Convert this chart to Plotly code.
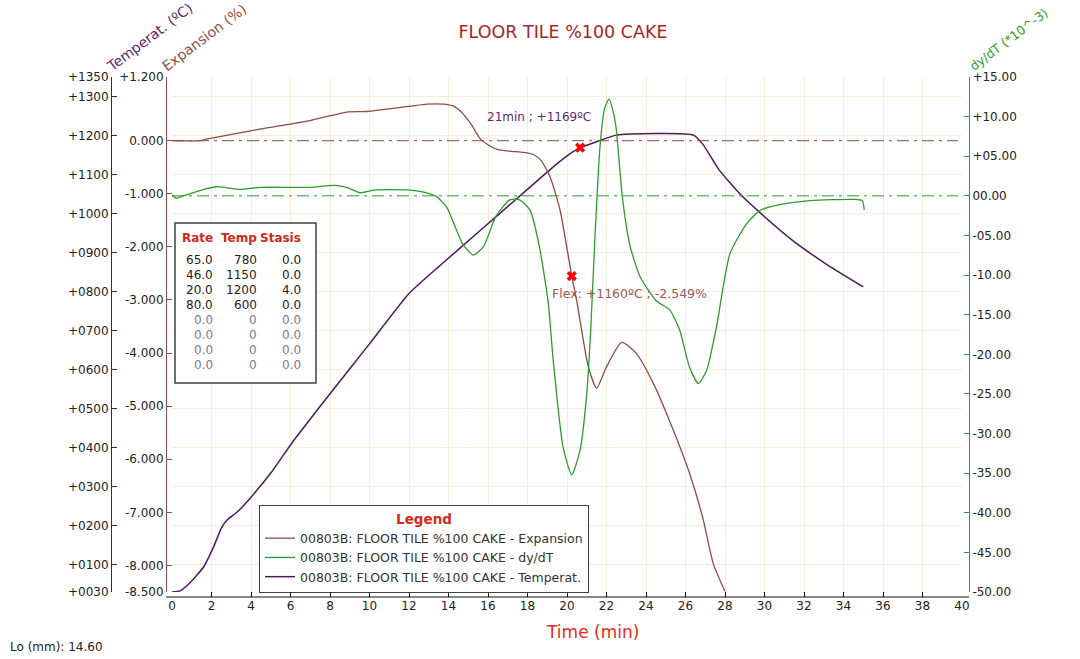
import plotly.graph_objects as go

# ---------------- data ----------------
t_temp = [0, 0.4, 0.9, 1.6, 2.1, 2.5, 2.8, 3.3, 4.0, 5.0, 6.1, 8.0, 10.0, 12.0, 13.6, 15.5,
          17.5, 19.5, 20.2, 20.7, 21.5, 22.5, 26.4, 26.9, 27.7, 28.8, 29.8, 31.4, 33.2, 35.0]
temperature = [30, 33, 53, 94, 145, 194, 215, 235, 273, 335, 414, 538, 666, 795, 868, 952,
               1040, 1128, 1155, 1169, 1184, 1201, 1201, 1176, 1112, 1048, 1001, 932, 868, 812]

t_exp = [0, 1.4, 1.75, 4.46, 6.99, 8.84, 9.86, 12.05, 12.9, 13.74, 14.2, 14.6, 14.95, 15.2,
         15.6, 16.1, 16.5, 17.2, 17.8, 18.3, 18.7, 19.14, 19.65, 20.24, 20.5, 21.08, 21.5,
         22.0, 22.77, 23.5, 24.37, 25.38, 26.2, 26.9, 27.4, 28.0]
expansion = [0, 0, 0.03, 0.22, 0.38, 0.54, 0.55, 0.65, 0.69, 0.69, 0.66, 0.56, 0.41, 0.28,
             0.04, -0.10, -0.17, -0.20, -0.22, -0.26, -0.38, -0.68, -1.31, -2.55, -3.03, -4.26,
             -4.66, -4.26, -3.80, -4.00, -4.57, -5.45, -6.26, -7.14, -7.96, -8.49]

t_dydt = [0, 0.24, 0.57, 1.6, 2.26, 3.44, 4.46, 6.99, 8.17, 8.84, 9.52, 10.2, 12.05, 12.9,
          13.4, 13.9, 14.4, 14.75, 15.26, 15.77, 16.4, 17.1, 17.6, 18.13, 18.6, 19.05, 19.3,
          19.8, 20.24, 20.66, 21.0, 21.2, 21.4, 21.67, 21.9, 22.13, 22.35, 22.5, 22.8, 23.2,
          23.7, 24.5, 25.2, 25.7, 26.2, 26.65, 27.07, 27.57, 28.25, 29.1, 29.8, 30.6, 32.3,
          34.5, 34.95, 35.05]
dydt = [0.1, -0.3, 0.0, 0.8, 1.15, 0.82, 1.07, 1.07, 1.32, 1.07, 0.39, 0.73, 0.73, 0.39,
        -0.1, -1.4, -4.3, -6.2, -7.47, -6.4, -2.6, -0.5, -0.5, -1.8, -6.4, -13.5, -20.7,
        -31.7, -35.2, -32.1, -25.0, -17.0, -6.0, 6.2, 11.0, 12.2, 10.5, 8.3, -0.1, -6.4,
        -10.2, -13.2, -14.4, -16.9, -21.6, -23.7, -22.0, -16.5, -7.3, -3.5, -1.8, -1.2, -0.6,
        -0.45, -0.6, -1.8]

# marked points
peak_t, peak_temp = [20.66], [1169]
flex_t, flex_exp = [20.24], [-2.549]
baseline_t = [0, 39.8]
exp_base = [0, 0]
dydt_base = [0, 0]

# program table
rates = [65.0, 46.0, 20.0, 80.0, 0.0, 0.0, 0.0, 0.0]
temps = [780, 1150, 1200, 600, 0, 0, 0, 0]
stasis = [0.0, 0.0, 4.0, 0.0, 0.0, 0.0, 0.0, 0.0]

# axis ticks
x_ticks = list(range(0, 41, 2))
temp_ticks = [30, 100, 200, 300, 400, 500, 600, 700, 800, 900, 1000, 1100, 1200, 1300, 1350]
temp_labels = ['+0030', '+0100', '+0200', '+0300', '+0400', '+0500', '+0600', '+0700',
               '+0800', '+0900', '+1000', '+1100', '+1200', '+1300', '+1350']
exp_ticks = [-8.5, -8, -7, -6, -5, -4, -3, -2, -1, 0, 1.2]
exp_labels = ['-8.500', '-8.000', '-7.000', '-6.000', '-5.000', '-4.000', '-3.000',
              '-2.000', '-1.000', '0.000', '+1.200']
d_ticks = [-50, -45, -40, -35, -30, -25, -20, -15, -10, -5, 0, 5, 10, 15]
d_labels = ['-50.00', '-45.00', '-40.00', '-35.00', '-30.00', '-25.00', '-20.00', '-15.00',
            '-10.00', '-05.00', '00.00', '+05.00', '+10.00', '+15.00']

# ---------------- layout helpers ----------------
W, H = 1080, 659
ML, MR, MT, MB = 60, 60, 60, 40
PW, PH = W - ML - MR, H - MT - MB


def px(x):
    return (x - ML) / PW


def py(y):
    return (H - MB - y) / PH


FONT = 'DejaVu Sans'
C_TEMP = '#4E1A5E'
C_EXP = '#8E4B4B'
C_D = '#2E9B2E'
GRID = '#F6EFD8'

fig = go.Figure()
fig.add_trace(go.Scatter(x=baseline_t, y=exp_base, yaxis='y2', mode='lines', showlegend=False,
                         hoverinfo='skip', line=dict(color=C_EXP, width=1, dash='12px,5px,3px,5px')))
fig.add_trace(go.Scatter(x=baseline_t, y=dydt_base, yaxis='y3', mode='lines', showlegend=False,
                         hoverinfo='skip', line=dict(color=C_D, width=1, dash='12px,5px,3px,5px')))
fig.add_trace(go.Scatter(x=t_exp, y=expansion, yaxis='y2', mode='lines',
                         name='00803B: FLOOR TILE %100 CAKE - Expansion',
                         line=dict(color=C_EXP, width=1.3, shape='spline', smoothing=0.6)))
fig.add_trace(go.Scatter(x=t_dydt, y=dydt, yaxis='y3', mode='lines',
                         name='00803B: FLOOR TILE %100 CAKE - dy/dT',
                         line=dict(color=C_D, width=1.3, shape='spline', smoothing=0.6)))
fig.add_trace(go.Scatter(x=t_temp, y=temperature, yaxis='y', mode='lines',
                         name='00803B: FLOOR TILE %100 CAKE - Temperat.',
                         line=dict(color=C_TEMP, width=1.5, shape='spline', smoothing=0.5)))
fig.add_trace(go.Scatter(x=peak_t, y=peak_temp, yaxis='y', mode='markers', showlegend=False,
                         marker=dict(symbol='x', size=9, color='#FF0000')))
fig.add_trace(go.Scatter(x=flex_t, y=flex_exp, yaxis='y2', mode='markers', showlegend=False,
                         marker=dict(symbol='x', size=9, color='#FF0000')))

tickfont = dict(family=FONT, size=12, color='#222222')

fig.update_layout(
    width=W, height=H,
    margin=dict(l=ML, r=MR, t=MT, b=MB),
    paper_bgcolor='white', plot_bgcolor='white',
    font=dict(family=FONT, color='#222222'),
    title=dict(text='FLOOR TILE %100 CAKE', x=563 / W, y=1 - 32 / H, xanchor='center',
               yanchor='middle', font=dict(family=FONT, size=17.5, color='#A0282A')),
    xaxis=dict(domain=[px(172), px(962)], range=[0, 40], anchor='free', position=py(597),
               tickvals=x_ticks, ticks='inside', ticklen=5, tickcolor='#111111',
               showline=False, showgrid=True, gridcolor=GRID, zeroline=False, tickfont=tickfont),
    yaxis=dict(domain=[py(592), py(77)], range=[30, 1350], anchor='free', position=px(111),
               side='left', tickvals=temp_ticks, ticktext=temp_labels, ticks='inside',
               ticklen=5, tickcolor=C_TEMP, showline=True, linecolor=C_TEMP, linewidth=1,
               showgrid=True, gridcolor=GRID, zeroline=False, tickfont=tickfont),
    yaxis2=dict(overlaying='y', range=[-8.5, 1.2], anchor='free', position=px(166), side='left',
                tickvals=exp_ticks, ticktext=exp_labels, ticks='inside', ticklen=5,
                tickcolor=C_EXP, showline=True, linecolor=C_EXP, linewidth=1,
                showgrid=False, zeroline=False, tickfont=tickfont),
    yaxis3=dict(overlaying='y', range=[-50, 15], anchor='free', position=px(969), side='right',
                tickvals=d_ticks, ticktext=d_labels, ticks='inside', ticklen=5,
                tickcolor=C_D, showline=True, linecolor=C_D, linewidth=1,
                showgrid=False, zeroline=False, tickfont=tickfont),
    legend=dict(x=px(259), y=py(505), xanchor='left', yanchor='top', bgcolor='white',
                bordercolor='#404040', borderwidth=1, tracegroupgap=0,
                font=dict(family=FONT, size=12.5, color='#333333'),
                title=dict(text='<b>Legend</b>', side='top center',
                           font=dict(family=FONT, size=13.5, color='#D42A1A'))),
    showlegend=True,
)

# x-axis line and table box
fig.add_shape(type='line', xref='paper', yref='paper', x0=px(166), x1=px(969), y0=py(597),
              y1=py(597), line=dict(color='#111111', width=1))
fig.add_shape(type='rect', xref='paper', yref='paper', x0=px(175), x1=px(316), y0=py(223),
              y1=py(383), fillcolor='white', line=dict(color='#404040', width=1.5), layer='above')

ann = []
# table
col_right = [215, 259, 303]
for txt, xr in zip(['Rate', 'Temp', 'Stasis'], col_right):
    ann.append(dict(text='<b>' + txt + '</b>', x=px(xr), y=py(238), xref='paper', yref='paper',
                    xanchor='right', yanchor='middle', showarrow=False,
                    font=dict(family=FONT, size=12, color='#CC2A1A')))
for i in range(len(rates)):
    col = '#222222' if i < 4 else '#7A7A9A'
    yv = py(260 + 15 * i)
    for txt, xr in zip([f'{rates[i]:.1f}', f'{temps[i]:d}', f'{stasis[i]:.1f}'], col_right):
        ann.append(dict(text=txt, x=px(xr), y=yv, xref='paper', yref='paper', xanchor='right',
                        yanchor='middle', showarrow=False,
                        font=dict(family=FONT, size=12, color=col)))

# rotated axis titles
for txt, xa, col, fs in [('Temperat. (ºC)', 101, '#5A1E6A', 14),
                         ('Expansion (%)', 157, '#8E4B4B', 14),
                         ('dy/dT (*10^-3)', 964, '#2E9B2E', 12.5)]:
    ann.append(dict(text=txt, x=px(xa), y=py(77), xref='paper', yref='paper', xanchor='left',
                    yanchor='bottom', textangle=-37, showarrow=False,
                    font=dict(family=FONT, size=fs, color=col)))

ann.append(dict(text='21min ; +1169ºC', x=px(539), y=py(117), xref='paper', yref='paper',
                xanchor='center', yanchor='middle', showarrow=False,
                font=dict(family=FONT, size=12, color='#5A2A6A')))
ann.append(dict(text='Flex: +1160ºC ; -2.549%', x=px(629), y=py(293), xref='paper',
                yref='paper', xanchor='center', yanchor='middle', showarrow=False,
                font=dict(family=FONT, size=12.5, color='#9A5A5A')))
ann.append(dict(text='Time (min)', x=px(592), y=py(632), xref='paper', yref='paper',
                xanchor='center', yanchor='middle', showarrow=False,
                font=dict(family=FONT, size=17, color='#E82A1A')))
ann.append(dict(text='Lo (mm): 14.60', x=px(8), y=py(647), xref='paper', yref='paper',
                xanchor='left', yanchor='middle', showarrow=False,
                font=dict(family=FONT, size=12, color='#222222')))

fig.update_layout(annotations=ann)

fig.write_html('out.html')
